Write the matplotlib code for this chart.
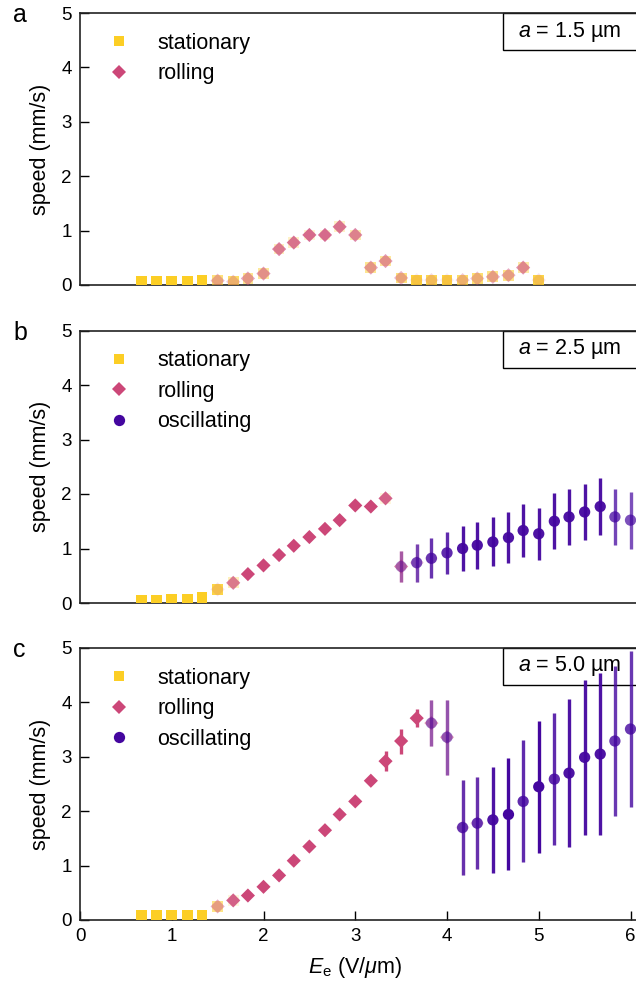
import numpy as np
import matplotlib
matplotlib.use("Agg")
import matplotlib.pyplot as plt
from matplotlib.colors import to_rgba
from matplotlib.lines import Line2D
from matplotlib.patches import Rectangle

plt.rcParams['font.family'] = ['Liberation Sans', 'DejaVu Sans']
plt.rcParams['mathtext.fontset'] = 'custom'
plt.rcParams['mathtext.rm'] = 'Liberation Sans'
plt.rcParams['mathtext.it'] = 'Liberation Sans:italic'

# ---------------- data ----------------
field = [0.67, 0.83, 1.00, 1.17, 1.33, 1.50, 1.67, 1.83, 2.00, 2.17, 2.33,
         2.50, 2.67, 2.83, 3.00, 3.17, 3.33, 3.50, 3.67, 3.83, 4.00, 4.17,
         4.33, 4.50, 4.67, 4.83, 5.00, 5.17, 5.33, 5.50, 5.67, 5.83, 6.00]

# panel a (a = 1.5 um): E = 0.67 ... 5.00
speed_a = [0.06, 0.06, 0.06, 0.06, 0.08, 0.08, 0.06, 0.12, 0.21, 0.66, 0.78,
           0.92, 0.92, 1.07, 0.92, 0.32, 0.44, 0.13, 0.09, 0.09, 0.09, 0.09,
           0.12, 0.15, 0.18, 0.32, 0.09]
err_a = [0.0] * 27
stat_a = [1, 1, 1, 1, 1, 0.6, 0.7, 0.5, 0.45, 0.3, 0.25, 0.2, 0.2, 0.25,
          0.35, 0.5, 0.45, 0.6, 0.9, 0.8, 0.9, 0.7, 0.65, 0.55, 0.55, 0.4, 0.85]
roll_a = [0, 0, 0, 0, 0, 0.4, 0.3, 0.5, 0.55, 0.7, 0.75, 0.8, 0.8, 0.75,
          0.65, 0.5, 0.55, 0.4, 0.1, 0.2, 0.1, 0.3, 0.35, 0.45, 0.45, 0.6, 0.15]
osc_a = [0] * 27

# panel b (a = 2.5 um): E = 0.67 ... 6.00
speed_b = [0.05, 0.05, 0.06, 0.06, 0.10, 0.25, 0.37, 0.53, 0.69, 0.88, 1.05,
           1.21, 1.36, 1.52, 1.79, 1.77, 1.92, 0.67, 0.74, 0.82, 0.92, 1.00,
           1.06, 1.12, 1.20, 1.33, 1.27, 1.50, 1.58, 1.67, 1.77, 1.58, 1.52]
err_b = [0, 0, 0, 0, 0, 0, 0, 0, 0, 0, 0, 0, 0, 0, 0, 0, 0,
         0.29, 0.35, 0.37, 0.39, 0.42, 0.43, 0.45, 0.47, 0.49, 0.48, 0.51,
         0.51, 0.51, 0.52, 0.52, 0.52]
stat_b = [1, 1, 1, 1, 1, 0.85, 0.3, 0, 0, 0, 0, 0, 0, 0, 0, 0, 0.15,
          0, 0, 0, 0, 0, 0, 0, 0, 0, 0, 0, 0, 0, 0, 0, 0]
roll_b = [0, 0, 0, 0, 0, 0.15, 0.7, 1, 1, 1, 1, 1, 1, 1, 1, 1, 0.85,
          0.65, 0.25, 0.1, 0, 0, 0, 0, 0, 0, 0, 0, 0, 0, 0, 0, 0]
osc_b = [0, 0, 0, 0, 0, 0, 0, 0, 0, 0, 0, 0, 0, 0, 0, 0, 0,
         0.35, 0.7, 0.8, 0.85, 0.95, 0.95, 0.95, 0.95, 0.95, 0.95, 0.95,
         0.95, 0.95, 0.95, 0.75, 0.7]

# panel c (a = 5.0 um): E = 0.67 ... 6.00
speed_c = [0.09, 0.09, 0.09, 0.09, 0.09, 0.25, 0.36, 0.45, 0.61, 0.82, 1.09,
           1.35, 1.65, 1.94, 2.18, 2.56, 2.92, 3.29, 3.71, 3.62, 3.36, 1.70,
           1.78, 1.84, 1.94, 2.18, 2.45, 2.59, 2.70, 2.99, 3.05, 3.29, 3.51]
err_c = [0, 0, 0, 0, 0, 0, 0, 0, 0, 0, 0, 0, 0, 0, 0, 0.06, 0.18, 0.23,
         0.16, 0.43, 0.69, 0.87, 0.85, 0.98, 1.03, 1.12, 1.21, 1.22, 1.36,
         1.42, 1.49, 1.37, 1.44]
stat_c = [1, 1, 1, 1, 1, 0.55, 0.15, 0, 0, 0, 0, 0, 0, 0, 0, 0, 0, 0,
          0, 0, 0, 0, 0, 0, 0, 0, 0, 0, 0, 0, 0, 0, 0]
roll_c = [0, 0, 0, 0, 0, 0.45, 0.85, 1, 1, 1, 1, 1, 1, 1, 1, 1, 1, 1,
          1, 0.55, 0.5, 0.2, 0.2, 0, 0, 0, 0, 0, 0, 0, 0, 0, 0]
osc_c = [0, 0, 0, 0, 0, 0, 0, 0, 0, 0, 0, 0, 0, 0, 0, 0, 0, 0,
         0, 0.45, 0.5, 0.8, 0.8, 0.95, 1.0, 0.85, 1.0, 0.85, 0.95, 0.95,
         0.95, 0.8, 0.8]

radii = ["1.5", "2.5", "5.0"]
panel_letters = ["a", "b", "c"]
state_names = ["stationary", "rolling", "oscillating"]

# ---------------- style ----------------
state_colors = ["#FCCE25", "#CC4778", "#44069F"]
state_markers = ["s", "D", "o"]
state_sizes = [60, 52, 66]
ebar_lw = 2.4
FS = 15.5
TFS = 13.5

W, H = 636, 984
fig = plt.figure(figsize=(W / 100, H / 100), dpi=100)

panels = [
    (speed_a, err_a, [stat_a, roll_a, osc_a], 13, 285, 2),
    (speed_b, err_b, [stat_b, roll_b, osc_b], 330.5, 603, 3),
    (speed_c, err_c, [stat_c, roll_c, osc_c], 648, 920, 3),
]

x_left_px = 80
px_per_unit = 91.75
xmax = 6.25

for i, (speed, err, fracs, top, bot, nleg) in enumerate(panels):
    ax = fig.add_axes([x_left_px / W, 1 - bot / H,
                       xmax * px_per_unit / W, (bot - top) / H])
    n = len(speed)
    x = np.array(field[:n])
    y = np.array(speed)
    e = np.array(err)
    for s in range(3):
        f = np.array(fracs[s], dtype=float)
        m = f > 0
        if not m.any():
            continue
        rgba = np.array([to_rgba(state_colors[s], a) for a in f[m]])
        em = m & (e > 0)
        if em.any():
            rg_e = np.array([to_rgba(state_colors[s], a) for a in f[em]])
            ax.vlines(x[em], y[em] - e[em], y[em] + e[em], colors=rg_e,
                      linewidth=ebar_lw, zorder=3 + s)
        ax.scatter(x[m], y[m], c=rgba, marker=state_markers[s],
                   s=state_sizes[s], linewidths=0, zorder=3 + s)

    ax.set_xlim(0, xmax)
    ax.set_ylim(0, 5)
    ax.set_yticks([0, 1, 2, 3, 4, 5])
    ax.tick_params(axis='y', direction='in', length=6.5, width=1,
                   labelsize=TFS, pad=6)
    if i == 2:
        ax.set_xticks([0, 1, 2, 3, 4, 5, 6])
        ax.tick_params(axis='x', direction='in', length=6.5, width=1,
                       labelsize=TFS, pad=6)
        ax.set_xlabel(r"$E_\mathrm{e}$ (V/$\mu$m)", fontsize=FS, labelpad=4)
        ax.xaxis.set_label_coords((355 - x_left_px) / (xmax * px_per_unit), -0.13)
    else:
        ax.set_xticks([])
    ax.set_ylabel("speed (mm/s)", fontsize=FS, labelpad=7)
    for sp in ax.spines.values():
        sp.set_linewidth(1.2)
        sp.set_color("#222222")
    ax.spines['right'].set_visible(False)

    # annotation box
    axw = xmax * px_per_unit
    bx0 = (503 - x_left_px) / axw
    by0 = 1 - 37 / (bot - top)
    rect = Rectangle((bx0, by0), 1.2 - bx0, 1 - by0, transform=ax.transAxes,
                     facecolor="white", edgecolor="black", linewidth=1.0,
                     zorder=1.5, clip_on=False)
    ax.add_patch(rect)
    ax.text((570 - x_left_px) / axw, 1 - 18.5 / (bot - top),
            r"$a$ = " + radii[i] + " µm", transform=ax.transAxes,
            ha="center", va="center", fontsize=FS, zorder=2)

    handles = [Line2D([], [], linestyle="none", marker=state_markers[s],
                      color=state_colors[s], markeredgewidth=0,
                      markersize=np.sqrt(state_sizes[s]))
               for s in range(nleg)]
    ax.legend(handles, state_names[:nleg], loc="upper left",
              bbox_to_anchor=(0.049, 0.928), frameon=False, fontsize=FS,
              handletextpad=1.3, labelspacing=0.44, handlelength=1.0,
              borderaxespad=0, borderpad=0)

    fig.text(13 / W, 1 - (22 + top - 13) / H, panel_letters[i],
             fontsize=18, ha="left", va="baseline")

fig.savefig("out.png", dpi=100)
